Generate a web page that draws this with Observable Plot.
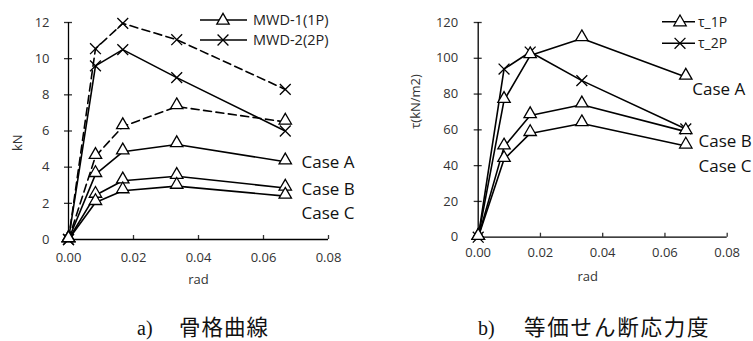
<!DOCTYPE html>
<html>
<head>
<meta charset="utf-8">
<script src="https://cdn.jsdelivr.net/npm/d3@7"></script>
<script src="https://cdn.jsdelivr.net/npm/@observablehq/plot@0.6"></script>
<style>
  html, body { margin: 0; padding: 0; background: #fff; }
  #wrap { position: relative; width: 753px; height: 341px; overflow: hidden; background: #fff; }
  #left, #right, #cap { position: absolute; }
  #left { left: 0; top: 0; }
  #right { left: 376px; top: 0; }
  #cap { left: 0; top: 290px; }
</style>
</head>
<body>
<div id="wrap">
  <div id="left"></div>
  <div id="right"></div>
  <div id="cap"></div>
</div>
<script>
// ---------- data ----------
const rad = [0, 0.0083, 0.0167, 0.0333, 0.0667];

// a) 骨格曲線 (kN)
const mwd2Dashed = [0, 10.55, 11.95, 11.05, 8.3];
const mwd2Solid  = [0, 9.6, 10.5, 8.95, 6.0];
const mwd1Dashed = [0, 4.6, 6.25, 7.35, 6.5];
const mwd1CaseA  = [0, 3.6, 4.85, 5.25, 4.3];
const mwd1CaseB  = [0, 2.45, 3.25, 3.5, 2.85];
const mwd1CaseC  = [0, 2.05, 2.7, 2.95, 2.4];

// b) 等価せん断応力度 (kN/m2)
const tau2P      = [0, 94, 103.5, 87.5, 60.5];
const tau1CaseA  = [0, 76.5, 101.5, 111, 89.5];
const tau1CaseB  = [0, 50.5, 68, 74, 59];
const tau1CaseC  = [0, 43.5, 58, 63.5, 51];

const xTicks = [0, 0.02, 0.04, 0.06, 0.08];
const yTicksLeft = [0, 2, 4, 6, 8, 10, 12];
const yTicksRight = [0, 20, 40, 60, 80, 100, 120];

const caseLabels = ["Case A", "Case B", "Case C"];
const leftCaseX = [0.0717, 0.0717, 0.0717];
const leftCaseY = [4.26, 2.77, 1.44];
const rightCaseX = [0.0688, 0.0708, 0.0708];
const rightCaseY = [82.5, 53.5, 39.5];

const leftLegend = ["MWD-1(1P)", "MWD-2(2P)"];
const rightLegend = ["τ_1P", "τ_2P"];

// ---------- helpers ----------
const FONT = "'Open Sans', 'Noto Sans', sans-serif";
const TRI_R = 4.6, X_R = 5;

function seriesMarks(values, symbol, dashed) {
  const rows = rad.map((x, i) => ({x, y: values[i]}));
  const marks = [
    Plot.line(rows, {x: "x", y: "y", stroke: "black", strokeWidth: 1.6,
      strokeDasharray: dashed ? "8,4.5" : null})
  ];
  if (symbol === "triangle") {
    marks.push(Plot.dot(rows, {x: "x", y: "y", symbol: "triangle", r: TRI_R,
      fill: "white", stroke: "black", strokeWidth: 1.3, dy: -1.5}));
  } else {
    marks.push(Plot.dot(rows, {x: "x", y: "y", symbol: "times", r: X_R,
      stroke: "black", strokeWidth: 1.3}));
  }
  return marks;
}

function axisMarks(yTicks, yPad, xPad, fmtY) {
  return [
    Plot.axisY({ticks: yTicks, tickSize: 0, tickPadding: yPad, tickFormat: fmtY, label: null, fontSize: 13}),
    Plot.axisY({ticks: yTicks, tickSize: 8, dx: 4, tickFormat: () => "", label: null, strokeWidth: 1.3}),
    Plot.axisX({ticks: xTicks, tickSize: 0, tickPadding: xPad, tickFormat: d3.format(".2f"), label: null, fontSize: 13}),
    Plot.axisX({ticks: xTicks, tickSize: 4, dy: -4, tickFormat: () => "", label: null, strokeWidth: 1.3}),
    Plot.ruleX([0], {stroke: "black", strokeWidth: 1.3}),
    Plot.ruleY([0], {stroke: "black", strokeWidth: 1.3})
  ];
}

function addLegend(svg, labels, symbols, pos) {
  const g = d3.select(svg).append("g").attr("text-anchor", "start");
  labels.forEach((lab, i) => {
    const y = pos.ys[i];
    g.append("line").attr("x1", pos.x1).attr("x2", pos.x2).attr("y1", y).attr("y2", y)
      .attr("stroke", "black").attr("stroke-width", 1.6);
    const sym = symbols[i] === "triangle"
      ? d3.symbol(d3.symbolTriangle, TRI_R * TRI_R * Math.PI)()
      : d3.symbol(d3.symbolTimes, X_R * X_R * Math.PI)();
    g.append("path").attr("d", sym)
      .attr("transform", `translate(${pos.xm},${y + (symbols[i] === "triangle" ? 0.5 : 0)})`)
      .attr("fill", symbols[i] === "triangle" ? "white" : "none")
      .attr("stroke", "black").attr("stroke-width", 1.3);
    g.append("text").attr("x", pos.xt).attr("y", y).attr("dy", "0.35em")
      .attr("text-anchor", "start")
      .attr("font-family", FONT).attr("font-size", pos.fs).attr("fill", "#222")
      .text(lab);
  });
}

// ---------- left chart ----------
const left = Plot.plot({
  width: 376, height: 290,
  marginLeft: 68, marginRight: 48, marginTop: 22, marginBottom: 51,
  style: {fontFamily: FONT, fontSize: "13px", color: "#333", background: "white", overflow: "visible"},
  x: {domain: [0, 0.08]},
  y: {domain: [0, 12]},
  marks: [
    ...axisMarks(yTicksLeft, 19, 13, d => String(d)),
    ...seriesMarks(mwd2Dashed, "times", true),
    ...seriesMarks(mwd1Dashed, "triangle", true),
    ...seriesMarks(mwd2Solid, "times", false),
    ...seriesMarks(mwd1CaseA, "triangle", false),
    ...seriesMarks(mwd1CaseB, "triangle", false),
    ...seriesMarks(mwd1CaseC, "triangle", false),
    Plot.text(caseLabels, {x: (d, i) => leftCaseX[i], y: (d, i) => leftCaseY[i], text: d => d,
      textAnchor: "start", fontSize: 17, fill: "#111"}),
    Plot.text(["kN"], {frameAnchor: "left", dx: -51, dy: 20, rotate: -90, fontSize: 13, fill: "#333"}),
    Plot.text(["rad"], {frameAnchor: "bottom", dy: 44, fontSize: 13, fill: "#333"})
  ]
});
addLegend(left, leftLegend, ["triangle", "times"], {x1: 200, x2: 247, xm: 223, xt: 253, ys: [20, 40], fs: 14.5});
document.getElementById("left").appendChild(left);

// ---------- right chart ----------
const right = Plot.plot({
  width: 377, height: 290,
  marginLeft: 101.7, marginRight: 26.3, marginTop: 22, marginBottom: 53.3,
  style: {fontFamily: FONT, fontSize: "13px", color: "#333", background: "white", overflow: "visible"},
  x: {domain: [0, 0.08]},
  y: {domain: [0, 120]},
  marks: [
    ...axisMarks(yTicksRight, 20, 11, d => String(d)),
    ...seriesMarks(tau2P, "times", false),
    ...seriesMarks(tau1CaseA, "triangle", false),
    ...seriesMarks(tau1CaseB, "triangle", false),
    ...seriesMarks(tau1CaseC, "triangle", false),
    Plot.text(caseLabels, {x: (d, i) => rightCaseX[i], y: (d, i) => rightCaseY[i], text: d => d,
      textAnchor: "start", fontSize: 17, fill: "#111"}),
    Plot.text(["τ(kN/m2)"], {frameAnchor: "left", dx: -62, dy: -1, rotate: -90, fontSize: 13, fill: "#333"}),
    Plot.text(["rad"], {frameAnchor: "bottom", dx: -15, dy: 44, fontSize: 13, fill: "#333"})
  ]
});
addLegend(right, rightLegend, ["triangle", "times"], {x1: 286, x2: 319, xm: 304, xt: 322, ys: [21.7, 43.3], fs: 14});
document.getElementById("right").appendChild(right);

// ---------- captions ----------
const cap = d3.select("#cap").append("svg").attr("width", 753).attr("height", 51);
const capItems = [
  {letter: "a)", lx: 137, text: "骨格曲線", tx: 179, ls: 1},
  {letter: "b)", lx: 478, text: "等価せん断応力度", tx: 524, ls: 1.8}
];
capItems.forEach(c => {
  cap.append("text").attr("x", c.lx).attr("y", 45).attr("font-family", "'Liberation Serif', serif")
    .attr("font-size", 20).attr("fill", "#111").text(c.letter);
  cap.append("text").attr("x", c.tx).attr("y", 45).attr("font-family", "'Noto Sans CJK JP', sans-serif")
    .attr("font-size", 21.5).attr("letter-spacing", c.ls).attr("fill", "#111").text(c.text);
});
</script>
</body>
</html>
